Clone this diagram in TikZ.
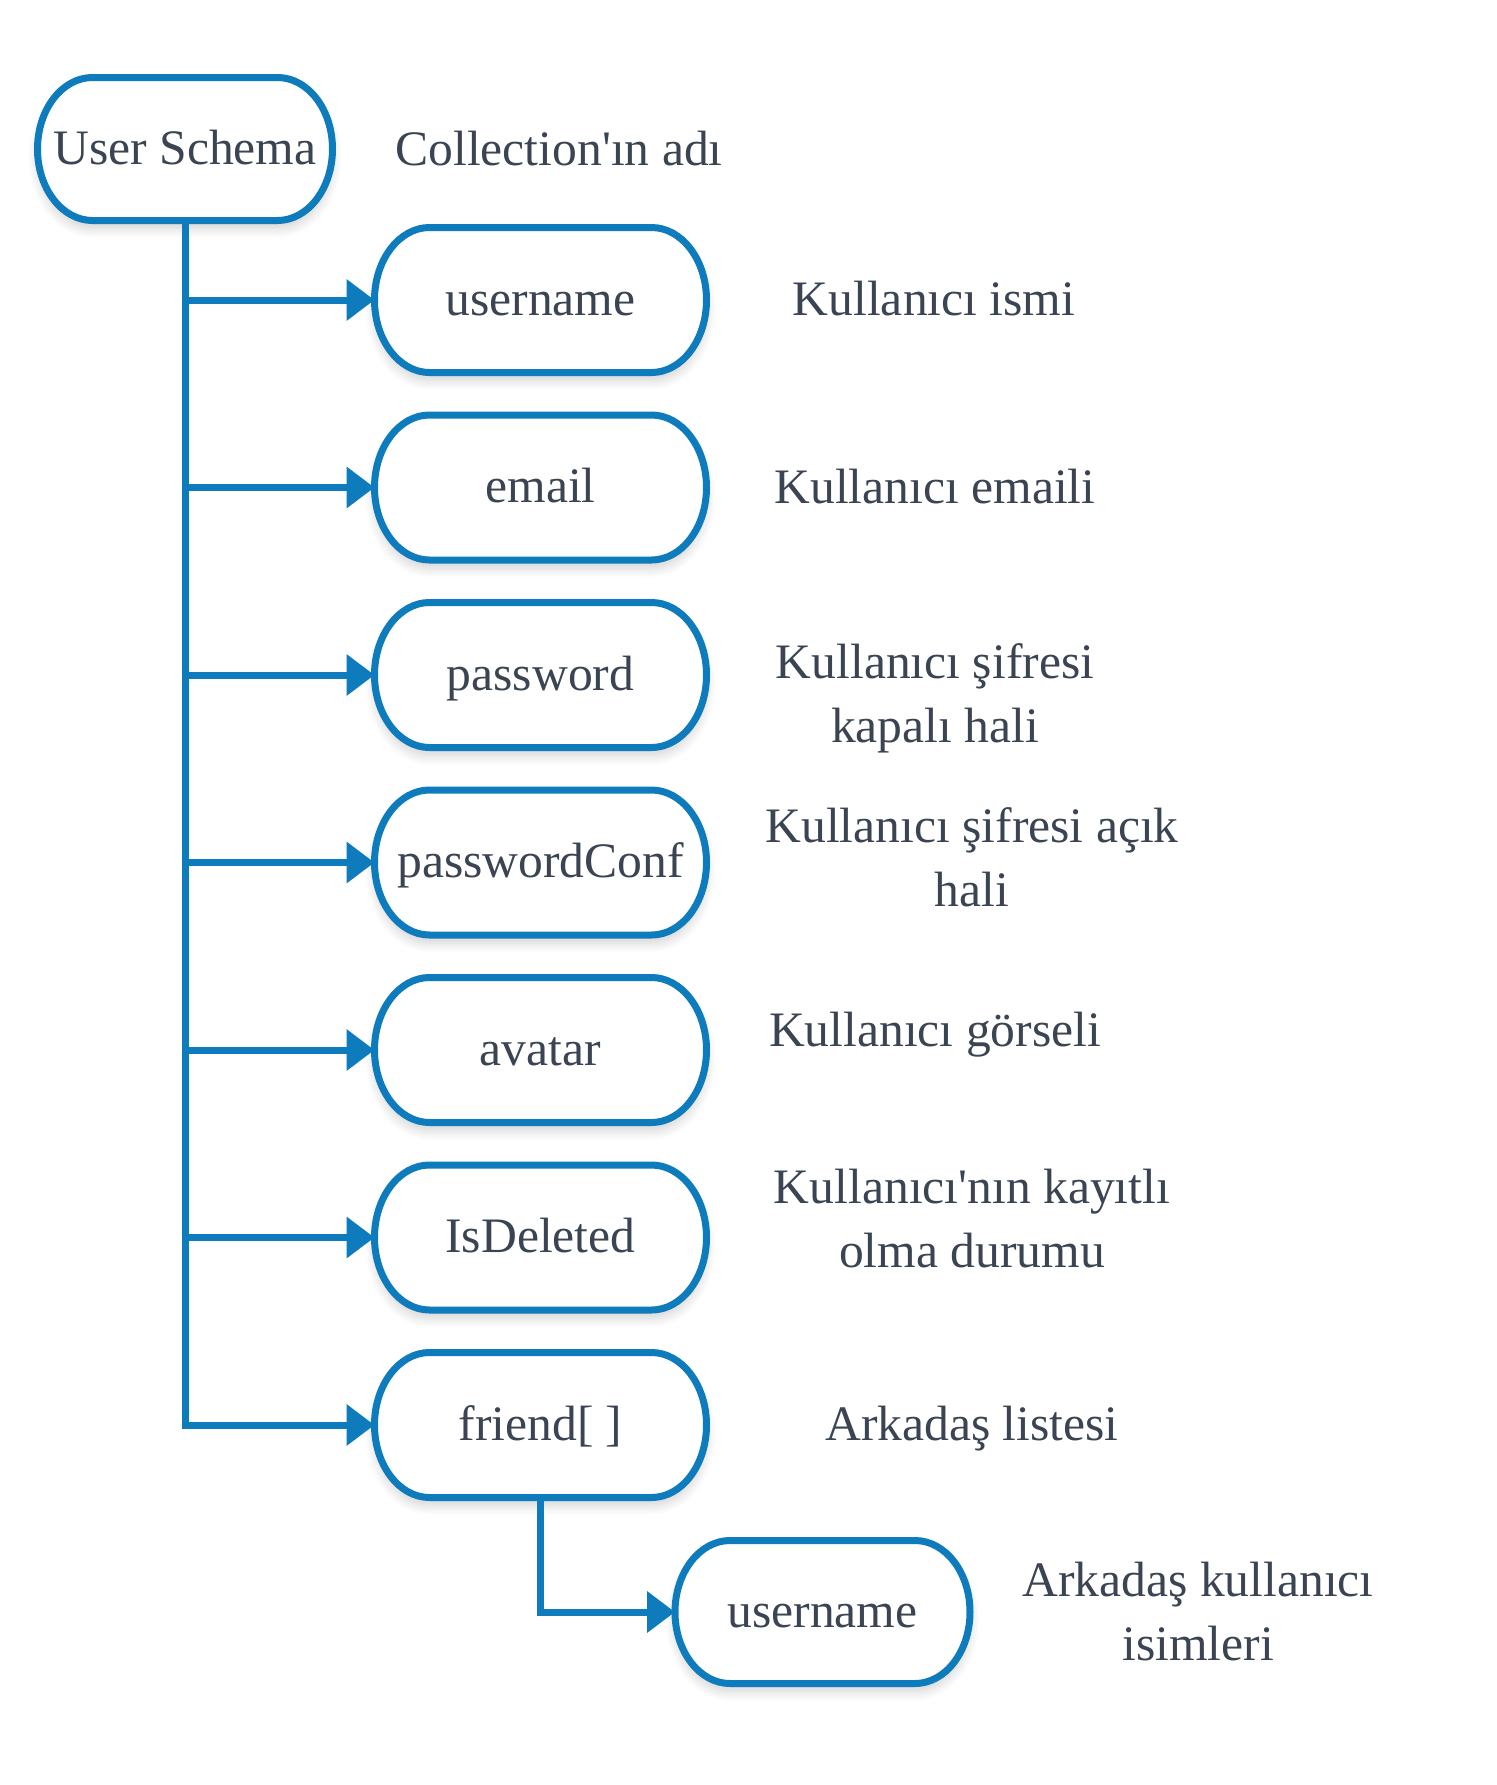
\documentclass[tikz,border=0pt]{standalone}
\usepackage{fontspec}
\newfontfamily\gfont{Liberation Serif}
\usetikzlibrary{arrows.meta,calc,backgrounds,shadows.blur}
\definecolor{bblue}{HTML}{0E7BBD}
\definecolor{txt}{HTML}{3A4452}
\tikzset{
  base/.style={font=\gfont\fontsize{24.8pt}{32pt}\selectfont, text=txt, inner sep=0pt, outer sep=0pt},
  boxtext/.style={base, text height=18pt, text depth=3pt},
  bigbox/.style={boxtext, minimum width=166pt, minimum height=72.5pt},
  smallbox/.style={boxtext, minimum width=147.5pt, minimum height=71.5pt},
  note/.style={base, align=center},
  conn/.style={draw=bblue, line width=3.5pt},
  arr/.style={conn, -{Triangle[length=14pt,width=20pt]}},
  capsule/.style={draw=bblue, line width=3.5pt, fill=white,
    blur shadow={shadow xshift=0pt, shadow yshift=-4pt, shadow opacity=18, shadow blur steps=8, shadow blur radius=5pt}},
}
\newcommand\capsuleof[1]{%
  \path[capsule] let \p1=(#1.north west), \p2=(#1.south east) in
   (\x1+27.5pt,\y1) -- (\x2-27.5pt,\y1)
   arc[start angle=90,end angle=-90,x radius=27.5pt,y radius={(\y1-\y2)/2}]
   -- (\x1+27.5pt,\y2)
   arc[start angle=270,end angle=90,x radius=27.5pt,y radius={(\y1-\y2)/2}]
   -- cycle;}
\begin{document}
\begin{tikzpicture}[x=0.5pt,y=-0.5pt]
\useasboundingbox (0,0) rectangle (1497,1785);
% nodes
\node[smallbox] (us) at (185,149) {User Schema};
\node[bigbox] (f1) at (540.5,300) {username};
\node[bigbox] (f2) at (540.5,487.5) {email};
\node[bigbox] (f3) at (540.5,675) {password};
\node[bigbox] (f4) at (540.5,862.5) {passwordConf};
\node[bigbox] (f5) at (540.5,1050) {avatar};
\node[bigbox] (f6) at (540.5,1237.5) {IsDeleted};
\node[bigbox] (f7) at (540.5,1425) {friend[ ]};
\node[smallbox] (fu) at (822.5,1612) {username};
% capsule outlines
\begin{scope}[on background layer]
\foreach \nm in {us,f1,f2,f3,f4,f5,f6,f7,fu} {\capsuleof{\nm}}
\end{scope}
% labels
\node[note] (l0) at (559,149) {Collection'ın adı};
\node[note] (l1) at (934,299) {Kullanıcı ismi};
\node[note] (l2) at (935,487) {Kullanıcı emaili};
\node[note] (l3) at (935,698) {Kullanıcı şifresi\\kapalı hali};
\node[note] (l4) at (972,857) {Kullanıcı şifresi açık\\hali};
\node[note] (l5) at (935,1035) {Kullanıcı görseli};
\node[note] (l6) at (972,1219) {Kullanıcı'nın kayıtlı\\olma durumu};
\node[note] (l7) at (972,1429) {Arkadaş listesi};
\node[note] (l8) at (1198,1612) {Arkadaş kullanıcı\\isimleri};
% connectors
\draw[arr] (us.south) |- (f7.west);
\foreach \i in {1,...,6} {\draw[arr] (us.south |- f\i.west) -- (f\i.west);}
\draw[arr] (f7.south) |- (fu.west);
\end{tikzpicture}
\end{document}
